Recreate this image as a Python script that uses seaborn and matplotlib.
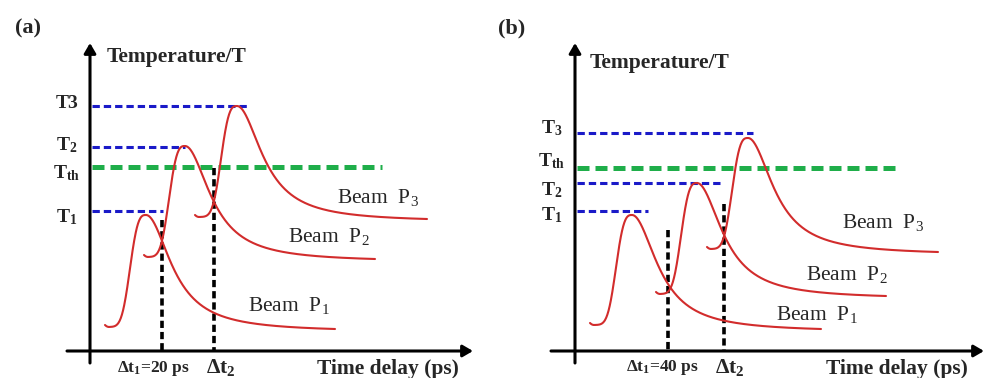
import numpy as np
import pandas as pd
import matplotlib
matplotlib.use("Agg")
import matplotlib.pyplot as plt
import seaborn as sns

# ---------------- data (time / temperature in arbitrary units; origin = axis crossing)
panel_tags = ["(a)", "(b)"]
beam_labels = ["Beam  P$_\\mathrm{1}$", "Beam  P$_\\mathrm{2}$", "Beam  P$_\\mathrm{3}$"]

# panel (a): pulse start, base level, peak, end of each beam
a_start_t = [15, 54, 105]
a_base_T = [24, 94, 134]
a_peak_t = [56, 95, 147]
a_peak_T = [136, 205, 245]
a_end_t = [245, 285, 337]
a_end_T = [22, 92, 132]

# panel (b)
b_start_t = [15, 81, 132]
b_base_T = [26, 57, 102]
b_peak_t = [57, 122, 173]
b_peak_T = [136, 168, 213]
b_end_t = [246, 311, 363]
b_end_T = [22, 55, 99]

# reference temperature levels (T1, T2, T3, Tth)
a_level_names = ["T$_\\mathbf{1}$", "T$_\\mathbf{2}$", "T3", "T$_\\mathbf{th}$"]
a_level_T = [140, 204, 245, 184]
a_level_end = [73, 95, 158, 292]
b_level_names = ["T$_\\mathbf{1}$", "T$_\\mathbf{2}$", "T$_\\mathbf{3}$", "T$_\\mathbf{th}$"]
b_level_T = [140, 168, 218, 183]
b_level_end = [73, 145, 178, 323]

# delay markers
a_delay_t = [72, 124]
a_delay_top = [131, 183]
a_delay_labels = ["Δt$_\\mathbf{1}$=20 ps", "Δt$_\\mathbf{2}$"]
b_delay_t = [93, 149]
b_delay_top = [121, 147]
b_delay_labels = ["Δt$_\\mathbf{1}$=40 ps", "Δt$_\\mathbf{2}$"]

y_title = "Temperature/T"
x_title = "Time delay (ps)"

# ---------------- style
sns.set_theme(style="white")
plt.rcParams["font.family"] = ["Liberation Serif", "DejaVu Serif"]
plt.rcParams["mathtext.fontset"] = "custom"
plt.rcParams["mathtext.rm"] = "Liberation Serif"
plt.rcParams["mathtext.bf"] = "Liberation Serif:bold"
plt.rcParams["mathtext.it"] = "Liberation Serif:italic"

RED = "#d22c2c"
BLUE = "#1a1ac8"
GREEN = "#1fae4a"

RISE_W, RISE_P, FALL_W, HOOK = 18.5, 3.0, 30.0, 2.0


def pulse(t0, Tb, tp, Tp, t1, T1, n=600):
    t = np.linspace(t0, t1, n)
    rise = Tb + (Tp - Tb) * np.exp(-np.abs((t - tp) / RISE_W) ** RISE_P)
    L_end = 1.0 / (1.0 + ((t1 - tp) / FALL_W) ** 2)
    T_inf = (T1 - Tp * L_end) / (1.0 - L_end)
    fall = T_inf + (Tp - T_inf) / (1.0 + ((t - tp) / FALL_W) ** 2)
    y = np.where(t <= tp, rise, fall)
    y = y + HOOK * np.clip(1.0 - (t - t0) / 4.0, 0, None) ** 2
    return t, y


fig = plt.figure(figsize=(9.86, 3.78), dpi=100)

panels = [
    dict(rect=[0.0, 0.0, 0.5, 1.0], xlim=(-90, 403), tag=panel_tags[0], tag_xy=(-75, 318),
         start=a_start_t, base=a_base_T, pt=a_peak_t, pT=a_peak_T, et=a_end_t, eT=a_end_T,
         lnames=a_level_names, lT=a_level_T, lend=a_level_end, lab_T=[129, 201, 243, 173],
         dt=a_delay_t, dtop=a_delay_top, dlab=a_delay_labels, dlab_x=[27, 116], dlab_y=[-21, -22],
         xt_x=227, yt_xy=(17, 289), yarrow=(-12, 308), xarrow=(-23, 383),
         beam_xy=[(158, 40), (198, 109), (247, 148)]),
    dict(rect=[0.5, 0.0, 0.5, 1.0], xlim=(-82, 411), tag=panel_tags[1], tag_xy=(-77, 318),
         start=b_start_t, base=b_base_T, pt=b_peak_t, pT=b_peak_T, et=b_end_t, eT=b_end_T,
         lnames=b_level_names, lT=b_level_T, lend=b_level_end, lab_T=[131, 156, 218, 185],
         dt=b_delay_t, dtop=b_delay_top, dlab=b_delay_labels, dlab_x=[51, 140], dlab_y=[-20, -22],
         xt_x=251, yt_xy=(15, 283), yarrow=(-12, 308), xarrow=(-24, 409),
         beam_xy=[(201, 31), (231, 71), (267, 123)]),
]

for p in panels:
    ax = fig.add_axes(p["rect"])
    # reference levels
    for i, (T, e) in enumerate(zip(p["lT"], p["lend"])):
        if i == 3:
            ax.plot([2, e], [T, T], color=GREEN, lw=3.6, dashes=(2.4, 1.2),
                    dash_capstyle="butt", zorder=2)
        else:
            ax.plot([2, e], [T, T], color=BLUE, lw=2.2, dashes=(2.4, 1.3),
                    dash_capstyle="butt", zorder=2)
        ax.text(-23, p["lab_T"][i], p["lnames"][i], ha="center", va="baseline",
                fontsize=14, fontweight="bold")
    # delay markers
    for t, top in zip(p["dt"], p["dtop"]):
        ax.plot([t, t], [top, 1], color="black", lw=2.6, dashes=(2.0, 1.1),
                dash_capstyle="butt", zorder=2)
    # beams
    for k in range(3):
        t, y = pulse(p["start"][k], p["base"][k], p["pt"][k], p["pT"][k], p["et"][k], p["eT"][k])
        sns.lineplot(x=t, y=y, ax=ax, color=RED, lw=1.5, sort=False, estimator=None, zorder=4)
        bx, by = p["beam_xy"][k]
        ax.text(bx, by, beam_labels[k], ha="left", va="baseline", fontsize=15.5)
    # axes arrows
    ap = dict(arrowstyle="-|>,head_length=0.6,head_width=0.35", lw=2.2, color="black",
              shrinkA=0, shrinkB=0, mutation_scale=10)
    ax.annotate("", xy=(0, p["yarrow"][1]), xytext=(0, p["yarrow"][0]), arrowprops=ap, zorder=5)
    ax.annotate("", xy=(p["xarrow"][1], 0), xytext=(p["xarrow"][0], 0), arrowprops=ap, zorder=5)
    # texts
    ax.text(p["tag_xy"][0], p["tag_xy"][1], p["tag"], ha="left", va="baseline",
            fontsize=16, fontweight="bold")
    ax.text(p["yt_xy"][0], p["yt_xy"][1], y_title, ha="left", va="baseline",
            fontsize=15.5, fontweight="bold")
    ax.text(p["xt_x"], -23, x_title, ha="left", va="baseline", fontsize=15.5, fontweight="bold")
    ax.text(p["dlab_x"][0], p["dlab_y"][0], p["dlab"][0], ha="left", va="baseline",
            fontsize=12.5, fontweight="bold")
    ax.text(p["dlab_x"][1], p["dlab_y"][1], p["dlab"][1], ha="left", va="baseline",
            fontsize=15.5, fontweight="bold")

    ax.set_xlim(*p["xlim"])
    ax.set_ylim(-27, 351)
    ax.set_axis_off()

fig.savefig("out.png", dpi=100)
